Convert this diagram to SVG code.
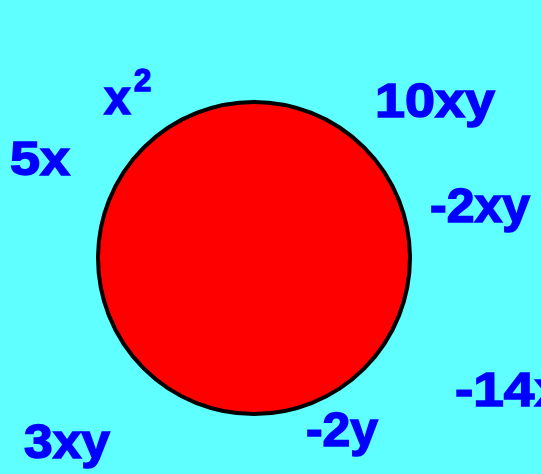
<svg xmlns="http://www.w3.org/2000/svg" width="541" height="474" viewBox="0 0 541 474">
<style>
.t{font-family:"Liberation Sans",Arial,sans-serif;font-weight:bold;fill:#0000ff;stroke:#0000ff;stroke-width:1.5;font-size:48px}
.s{font-size:31px}
</style>
<rect width="541" height="474" fill="#5fffff"/>
<g id="circle"><circle cx="254" cy="258" r="156" fill="#ff0000" stroke="#000" stroke-width="4"/></g>
<g id="x2"><text class="t" x="104" y="114">x</text><text class="t s" x="134" y="91">2</text></g>
<g id="t5x"><text class="t" x="10" y="175" textLength="60" lengthAdjust="spacingAndGlyphs">5x</text></g>
<g id="t10xy"><text class="t" x="375" y="117" textLength="120" lengthAdjust="spacingAndGlyphs">10xy</text></g>
<g id="tm2xy"><text class="t" x="430" y="222" textLength="100" lengthAdjust="spacingAndGlyphs">-2xy</text></g>
<g id="tm14"><text class="t" x="455" y="406" textLength="110" lengthAdjust="spacingAndGlyphs">-14x</text></g>
<g id="tm2y"><text class="t" x="306" y="446" textLength="72" lengthAdjust="spacingAndGlyphs">-2y</text></g>
<g id="t3xy"><text class="t" x="24" y="458" textLength="86" lengthAdjust="spacingAndGlyphs">3xy</text></g>
</svg>
